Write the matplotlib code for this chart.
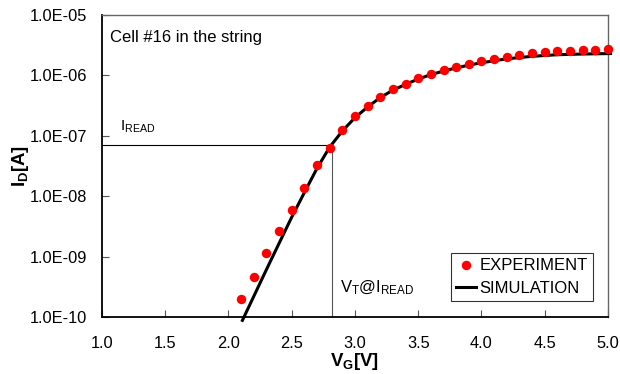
import matplotlib
matplotlib.use("Agg")
import matplotlib.pyplot as plt
from matplotlib.ticker import FixedLocator, FuncFormatter
import numpy as np

plt.rcParams['font.family'] = ['Liberation Sans', 'DejaVu Sans']
plt.rcParams['mathtext.fontset'] = 'custom'
plt.rcParams['mathtext.rm'] = 'Liberation Sans'
plt.rcParams['mathtext.it'] = 'Liberation Sans:italic'
plt.rcParams['mathtext.bf'] = 'Liberation Sans:bold'

# Experimental data
exp_vg = [2.1, 2.2, 2.3, 2.4, 2.5, 2.6, 2.7, 2.8, 2.9, 3.0,
          3.1, 3.2, 3.3, 3.4, 3.5, 3.6, 3.7, 3.8, 3.9, 4.0,
          4.1, 4.2, 4.3, 4.4, 4.5, 4.6, 4.7, 4.8, 4.9, 5.0]
exp_id = [1.96e-10, 4.6e-10, 1.15e-9, 2.7e-9, 6.0e-9, 1.35e-8, 3.3e-8, 6.4e-8, 1.25e-7, 2.13e-7,
          3.16e-7, 4.45e-7, 5.9e-7, 7.3e-7, 8.9e-7, 1.07e-6, 1.23e-6, 1.39e-6, 1.55e-6, 1.71e-6,
          1.87e-6, 2.02e-6, 2.18e-6, 2.32e-6, 2.41e-6, 2.5e-6, 2.57e-6, 2.64e-6, 2.67e-6, 2.7e-6]

# Simulation curve
sim_vg = [2.11, 2.2, 2.3, 2.4, 2.5, 2.6, 2.7, 2.8, 2.9, 3.0, 3.1, 3.2, 3.3, 3.4,
          3.5, 3.6, 3.7, 3.8, 3.9, 4.0, 4.2, 4.4, 4.6, 4.8, 5.02]
sim_id = [8.8e-11, 2.2e-10, 6.1e-10, 1.66e-9, 4.5e-9, 1.15e-8, 2.9e-8, 6.5e-8, 1.2e-7, 2.0e-7,
          3.0e-7, 4.3e-7, 5.7e-7, 7.1e-7, 8.7e-7, 1.03e-6, 1.18e-6, 1.33e-6, 1.48e-6, 1.62e-6,
          1.88e-6, 2.07e-6, 2.2e-6, 2.26e-6, 2.3e-6]

i_read = 7.0e-8
vt_read = 2.82

yticks = [1e-10, 1e-9, 1e-8, 1e-7, 1e-6, 1e-5]
xticks = [1.0, 1.5, 2.0, 2.5, 3.0, 3.5, 4.0, 4.5, 5.0]

fig = plt.figure(figsize=(6.2, 3.74), dpi=100)
ax = fig.add_axes([0.1645, 0.1524, 0.8161, 0.8075])
ax.set_yscale('log')
ax.set_xlim(1.0, 5.0)
ax.set_ylim(1e-10, 1e-5)

ax.plot([1.0, vt_read], [i_read, i_read], color='black', lw=0.8, zorder=2)
ax.plot([vt_read, vt_read], [1e-10, i_read], color='#555555', lw=0.8, zorder=2)

ax.plot(sim_vg, sim_id, color='black', lw=2.2, label='SIMULATION', zorder=3, clip_on=False)
ax.plot(exp_vg, exp_id, 'o', color='#ff0000', markersize=6.8, markeredgewidth=0,
        label='EXPERIMENT', zorder=4, clip_on=False)

ax.yaxis.set_major_locator(FixedLocator(yticks))
ax.yaxis.set_minor_locator(FixedLocator([]))
ax.yaxis.set_major_formatter(FuncFormatter(lambda v, p: '%.1fE-%02d' % (1.0, -int(round(np.log10(v))))))
ax.xaxis.set_major_locator(FixedLocator(xticks))
ax.xaxis.set_major_formatter(FuncFormatter(lambda v, p: '%.1f' % v))
ax.tick_params(direction='in', length=5, width=0.8, color='#555555', labelsize=11.8)
ax.tick_params(axis='y', pad=10.5)
ax.tick_params(axis='x', pad=13.5)

for s in ['left', 'bottom']:
    ax.spines[s].set_color('black')
    ax.spines[s].set_linewidth(1.3)
for s in ['top', 'right']:
    ax.spines[s].set_color('#666666')
    ax.spines[s].set_linewidth(1.0)

ax.set_ylabel(r'$\mathbf{I_D[A]}$', fontsize=13.4, labelpad=-1)
ax.set_xlabel(r'$\mathbf{V_G[V]}$', fontsize=13.4, labelpad=0.5)

ax.text(0.015, 0.925, 'Cell #16 in the string', transform=ax.transAxes, fontsize=12, va='center', ha='left')
ax.text(1.14, 1.05e-7, r'$\mathrm{I_{READ}}$', fontsize=11, ha='left', va='bottom')
ax.text(2.88, 3.1e-10, r'$\mathrm{V_T@I_{READ}}$', fontsize=12, ha='left', va='center')

handles, labels = ax.get_legend_handles_labels()
leg = ax.legend([handles[1], handles[0]], [labels[1], labels[0]], loc='lower right',
                bbox_to_anchor=(0.97, 0.053), fontsize=12, frameon=True, fancybox=False,
                edgecolor='black', handlelength=1.2, handletextpad=0.2, borderpad=0.3,
                labelspacing=0.45, borderaxespad=0)
leg.get_frame().set_linewidth(0.8)

fig.savefig('out.png', dpi=100)
